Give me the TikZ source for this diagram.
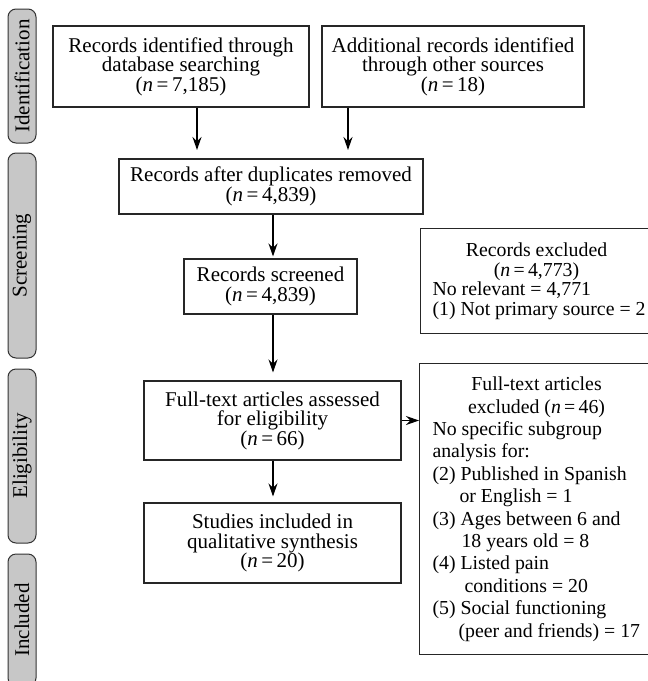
\documentclass[tikz,border=0pt]{standalone}
\usepackage{fontspec}
\setmainfont{Liberation Serif}
\usetikzlibrary{arrows.meta}
\begin{document}
\begin{tikzpicture}[x=1pt,y=-1pt,
  box/.style={draw=black!85, line width=1.1pt, align=center, inner sep=0pt, font=\fontsize{21}{19.5}\selectfont},
  exbox/.style={box, anchor=north west, align=flush left, text width=236pt, font=\fontsize{19.8}{19.5}\selectfont},
  side/.style={draw=black!80, line width=1pt, fill=black!22, rounded corners=8pt, rotate=90, minimum height=28pt, inner sep=0pt, font=\fontsize{21}{21}\selectfont},
  arr/.style={-{Stealth[length=13pt,width=9pt]}, line width=1.1pt}]
\useasboundingbox (0,0) rectangle (648,681);
% phase labels
\node[side, minimum width=134pt] (ident) at (22,76) {Identification};
\node[side, minimum width=205pt] (screen) at (22,255.5) {Screening};
\node[side, minimum width=174pt] (elig) at (22,456) {Eligibility};
\node[side, minimum width=132pt] (incl) at (22,620) {Included};
% flow boxes
\node[box, minimum width=256pt, minimum height=81pt] (db) at (181,66.5) {Records identified through\\ database searching\\ (\textit{n}\,=\,7,185)};
\node[box, minimum width=262pt, minimum height=81pt] (other) at (453,66.5) {Additional records identified\\ through other sources\\ (\textit{n}\,=\,18)};
\node[box, minimum width=304pt, minimum height=55pt] (dup) at (271,186.5) {Records after duplicates removed\\ (\textit{n}\,=\,4,839)};
\node[box, minimum width=173pt, minimum height=55pt] (scr) at (270.5,286.5) {Records screened\\ (\textit{n}\,=\,4,839)};
\node[box, minimum width=257pt, minimum height=79pt] (full) at (272.5,420.5) {Full-text articles assessed\\ for eligibility\\ (\textit{n}\,=\,66)};
\node[box, minimum width=257pt, minimum height=80pt] (synth) at (272.5,543) {Studies included in\\ qualitative synthesis\\ (\textit{n}\,=\,20)};
% exclusion boxes
\node[exbox, minimum height=105pt, inner xsep=12pt] (recex) at (420,228)
  {\makebox[208pt]{Records excluded}\\ \makebox[208pt]{(\textit{n}\,=\,4,773)}\\ No relevant = 4,771\\ (1) Not primary source = 2};
\node[exbox, minimum height=291pt, inner xsep=13pt, font=\fontsize{19.8}{22.4}\selectfont] (fullex) at (419,363)
  {\makebox[208pt]{Full-text articles}\\ \makebox[208pt]{excluded (\textit{n}\,=\,46)}\\
   No specific subgroup\\ analysis for:\\
   (2) Published in Spanish\\ \hspace*{27pt}or English = 1\\
   (3) Ages between 6 and\\ \hspace*{29pt}18 years old = 8\\
   (4) Listed pain\\ \hspace*{32pt}conditions = 20\\
   (5) Social functioning\\ \hspace*{26pt}(peer and friends) = 17};
% connectors
\coordinate (c1) at (197,150);
\coordinate (c2) at (348,150);
\coordinate (ax) at (273,0);
\draw[arr, line width=1.6pt] (db.south -| c1) -- (c1);
\draw[arr, line width=1.6pt] (other.south -| c2) -- (c2);
\draw[arr, line width=1.6pt, shorten >=2pt] (dup.south -| ax) -- (scr.north -| ax);
\draw[arr, shorten >=8pt] (scr.south -| ax) -- (full.north -| ax);
\draw[arr, shorten >=6pt] (full.south -| ax) -- (synth.north -| ax);
\draw[arr] (full.east) -- (full.east -| fullex.west);
\end{tikzpicture}
\end{document}
